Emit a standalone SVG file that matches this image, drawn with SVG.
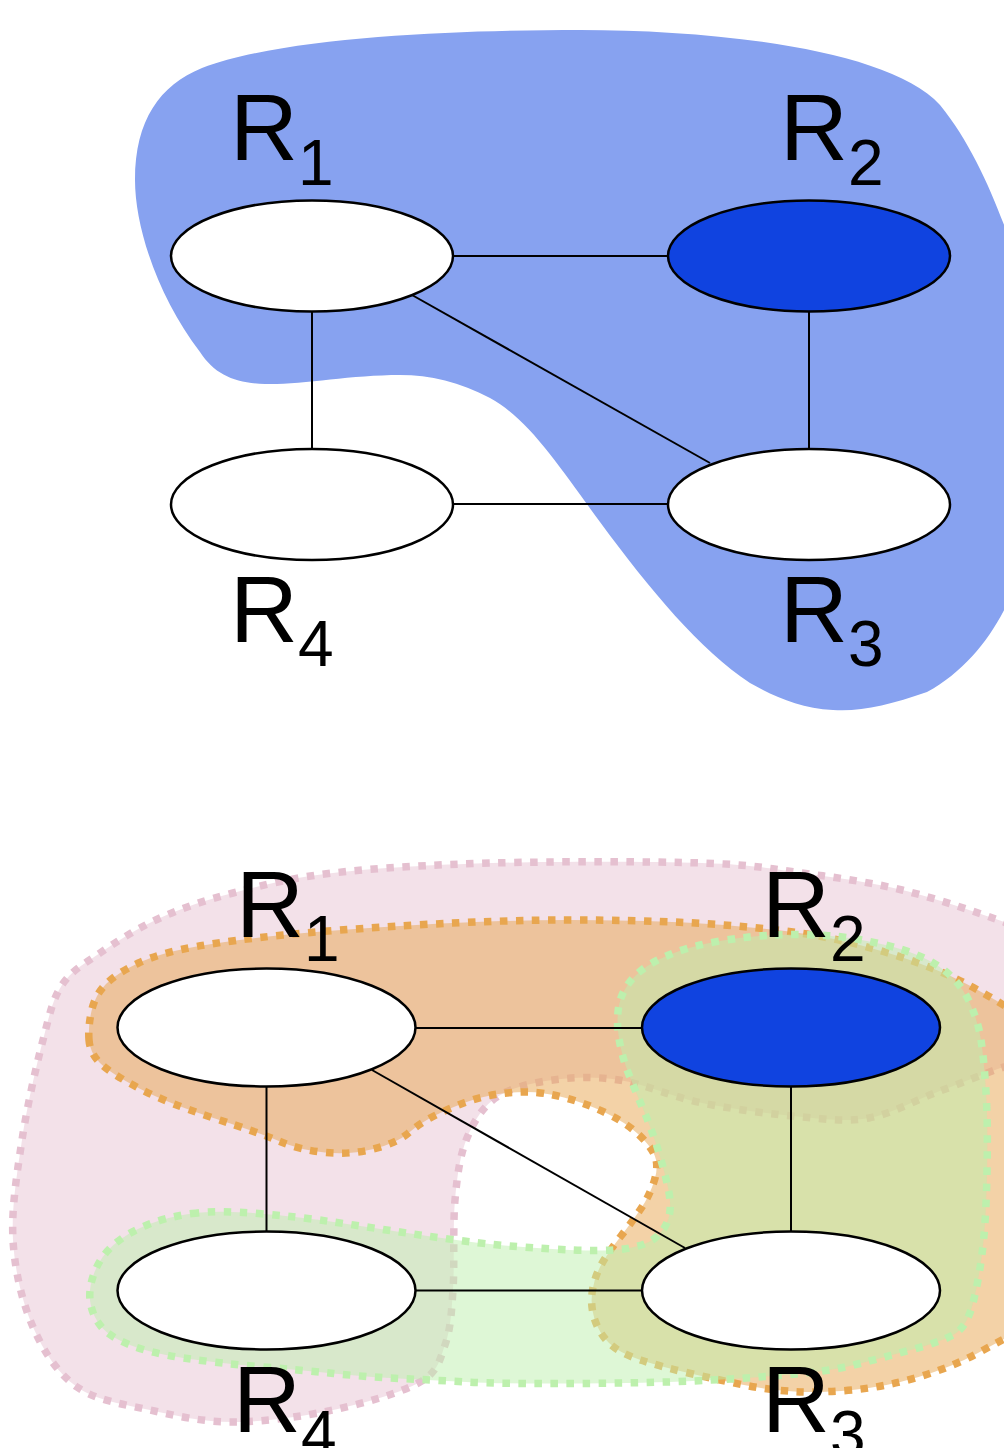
<svg xmlns="http://www.w3.org/2000/svg" width="1004" height="1448" viewBox="0 0 1004 1448">
<style>
.node{stroke:#000;stroke-width:2.5}
.w{fill:#fff}
.b{fill:#1043e0}
.edge{stroke:#000;stroke-width:2;fill:none}
.lbl{font-family:"Liberation Sans",Arial,sans-serif;font-size:94px;fill:#000}
.sub{font-size:64px}
.reg{stroke-width:7.5;stroke-dasharray:7.5 8.5}
.pink{fill:#e5c0d0;fill-opacity:0.48;stroke:#e5c0d0}
.orange{fill:#e8a64f;fill-opacity:0.5;stroke:#e8a64f}
.green{fill:#bdf0ad;fill-opacity:0.5;stroke:#bdf0ad}
</style>

<!-- Top diagram -->
<path id="top-region" fill="#87a2f0" d="M 202,68 C 290,35 470,30 580,30 C 720,30 890,50 940,105 C 985,160 1010,240 1030,300 L 1030,540 C 1015,600 985,660 927,692 C 890,705 860,712 833,710 C 800,708 775,697 750,683 C 700,650 650,590 600,522 C 560,468 530,420 490,398 C 460,382 430,375 400,375 C 350,375 300,385 265,384 C 235,383 215,375 200,352 C 160,300 135,230 135,180 C 135,120 160,85 202,68 Z"/>

<g id="top-connectors" class="edge">
<line x1="453" y1="256" x2="668" y2="256"/>
<line x1="312" y1="311" x2="312" y2="449"/>
<line x1="809" y1="311" x2="809" y2="449"/>
<line x1="453" y1="504" x2="668" y2="504"/>
<line x1="412" y1="295" x2="710" y2="463"/>
</g>

<g id="top-R1"><ellipse class="node w" cx="312" cy="256" rx="141" ry="55.5"/><text class="lbl" x="230" y="160">R<tspan class="sub" dy="25">1</tspan></text></g>
<g id="top-R2"><ellipse class="node b" cx="809" cy="256" rx="141" ry="55.5"/><text class="lbl" x="780" y="160">R<tspan class="sub" dy="25">2</tspan></text></g>
<g id="top-R3"><ellipse class="node w" cx="809" cy="504.5" rx="141" ry="55.5"/><text class="lbl" x="780" y="642">R<tspan class="sub" dy="24">3</tspan></text></g>
<g id="top-R4"><ellipse class="node w" cx="312" cy="504.5" rx="141" ry="55.5"/><text class="lbl" x="230" y="642">R<tspan class="sub" dy="24">4</tspan></text></g>

<!-- Bottom diagram regions -->
<path id="region-pink" class="reg pink" d="M 1040,1060 L 1004,1067 C 986.5,1072.5 957.5,1084.5 935,1093 C 912.5,1101.5 891.2,1114 869,1118 C 846.8,1122 829.8,1119.5 802,1117 C 774.2,1114.5 732.5,1109.2 702,1103 C 671.5,1096.8 643.8,1083.8 619,1080 C 594.2,1076.2 573.3,1077.2 553,1080 C 532.7,1082.8 511.3,1087.3 497,1097 C 482.7,1106.7 474,1120.8 467,1138 C 460,1155.2 457.3,1174.7 455,1200 C 452.7,1225.3 454.7,1265.8 453,1290 C 451.3,1314.2 450.5,1329.7 445,1345 C 439.5,1360.3 438.7,1371.2 420,1382 C 401.3,1392.8 364.2,1403.3 333,1410 C 301.8,1416.7 263.5,1422 233,1422 C 202.5,1422 176,1415.8 150,1410 C 124,1404.2 96.5,1400.8 77,1387 C 57.5,1373.2 43.7,1351.5 33,1327 C 22.3,1302.5 14.8,1271.2 13,1240 C 11.2,1208.8 17,1173.3 22,1140 C 27,1106.7 36.3,1065.8 43,1040 C 49.7,1014.2 52.5,999.5 62,985 C 71.5,970.5 83.7,964.2 100,953 C 116.3,941.8 137.8,928 160,918 C 182.2,908 204.2,900.5 233,893 C 261.8,885.5 289.7,878 333,873 C 376.3,868 431.5,864.7 493,863 C 554.5,861.3 650.5,861.3 702,863 C 753.5,864.7 768.7,868.5 802,873 C 835.3,877.5 868.3,881.8 902,890 C 935.7,898.2 981,913.7 1004,922 L 1040,940 Z"/>

<path id="region-orange" class="reg orange" d="M 89,1040 Q 88,1027 91.5,1011 Q 95,995 106,984 Q 117,973 138.5,963 Q 160,953 196.5,946.5 Q 233,940 283,935 Q 333,930 416.5,925 Q 500,920 567.5,920 Q 635,920 685,922.5 Q 735,925 785,931 Q 835,937 885,952 Q 935,967 968.5,985 Q 1002,1003 1021,1016.5 Q 1040,1030 1040,1175 Q 1040,1320 1021,1330 Q 1002,1340 977,1353.5 Q 952,1367 918.5,1377 Q 885,1387 852,1390 Q 819,1393 794,1391.5 Q 769,1390 744,1385 Q 719,1380 690.5,1373.5 Q 662,1367 640.5,1360 Q 619,1353 609,1343 Q 599,1333 594.5,1319 Q 590,1305 592.5,1290 Q 595,1275 602.5,1262.5 Q 610,1250 621,1236 Q 632,1222 641,1208.5 Q 650,1195 654.5,1180 Q 659,1165 654.5,1155 Q 650,1145 637.5,1133.5 Q 625,1122 605,1112.5 Q 585,1103 564,1097.5 Q 543,1092 526.5,1092 Q 510,1092 495,1094.5 Q 480,1097 465,1102.5 Q 450,1108 435,1115.5 Q 420,1123 408.5,1133 Q 397,1143 373.5,1149 Q 350,1155 325,1152.5 Q 300,1150 280,1141.5 Q 260,1133 213.5,1118 Q 167,1103 138.5,1088 Q 110,1073 100,1063 Q 90,1053 89,1040 Z"/>

<path id="region-green" class="reg green" d="M 192,1213.5 Q 217,1210 258.5,1213.5 Q 300,1217 333.5,1222 Q 367,1227 400,1232 Q 433,1237 467.5,1241.5 Q 502,1246 552,1249 Q 602,1252 623.5,1249 Q 645,1246 655,1238 Q 665,1230 668.5,1218.5 Q 672,1207 668.5,1190 Q 665,1173 658.5,1151.5 Q 652,1130 643.5,1110 Q 635,1090 628.5,1073.5 Q 622,1057 619,1038.5 Q 616,1020 619,1005 Q 622,990 633.5,977.5 Q 645,965 667.5,955.5 Q 690,946 720,941 Q 750,936 775,935 Q 800,934 826,935.5 Q 852,937 885.5,945 Q 919,953 939,966.5 Q 959,980 968.5,1000 Q 978,1020 981,1040 Q 984,1060 986,1091.5 Q 988,1123 987,1173 Q 986,1223 982,1254 Q 978,1285 972,1306.5 Q 966,1328 953,1335 Q 940,1342 912.5,1349.5 Q 885,1357 860,1363.5 Q 835,1370 810,1372.5 Q 785,1375 760,1377 Q 735,1379 692.5,1381 Q 650,1383 575,1383.5 Q 500,1384 466.5,1382 Q 433,1380 400,1378.5 Q 367,1377 333.5,1373.5 Q 300,1370 258.5,1366.5 Q 217,1363 183.5,1358 Q 150,1353 130,1345 Q 110,1337 101.5,1327 Q 93,1317 90.5,1303.5 Q 88,1290 94,1273.5 Q 100,1257 113.5,1245 Q 127,1233 147,1225 Q 167,1217 192,1213.5 Z"/>

<g id="bottom-connectors" class="edge">
<line x1="416" y1="1028" x2="642" y2="1028"/>
<line x1="266.5" y1="1086" x2="266.5" y2="1231"/>
<line x1="791" y1="1086" x2="791" y2="1232"/>
<line x1="416" y1="1290.5" x2="642" y2="1290.5"/>
<line x1="372" y1="1070" x2="685" y2="1248"/>
</g>

<g id="bottom-R1"><ellipse class="node w" cx="266.5" cy="1027.5" rx="149" ry="59"/><text class="lbl" x="236" y="937">R<tspan class="sub" dy="24">1</tspan></text></g>
<g id="bottom-R2"><ellipse class="node b" cx="791" cy="1027.5" rx="149" ry="59"/><text class="lbl" x="762" y="937">R<tspan class="sub" dy="24">2</tspan></text></g>
<g id="bottom-R3"><ellipse class="node w" cx="791" cy="1290.5" rx="149" ry="59"/><text class="lbl" x="762" y="1432">R<tspan class="sub" dy="24">3</tspan></text></g>
<g id="bottom-R4"><ellipse class="node w" cx="266.5" cy="1290.5" rx="149" ry="59"/><text class="lbl" x="233" y="1432">R<tspan class="sub" dy="24">4</tspan></text></g>
</svg>
